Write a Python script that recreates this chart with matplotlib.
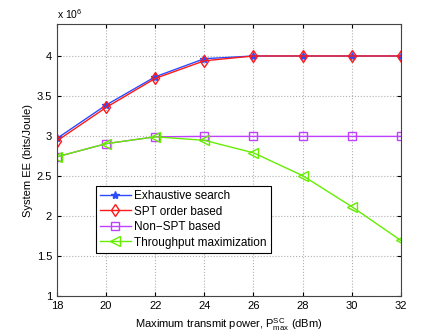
import matplotlib
matplotlib.use("Agg")
import matplotlib.pyplot as plt

plt.rcParams['font.family'] = ['Liberation Sans', 'DejaVu Sans']
plt.rcParams['mathtext.fontset'] = 'custom'
plt.rcParams['mathtext.rm'] = 'Liberation Sans'

# transmit power (dBm) and system EE (x 10^6 bits/Joule)
power = [18, 20, 22, 24, 26, 28, 30, 32]
exhaustive = [2.97, 3.387, 3.74, 3.966, 4.0, 4.0, 4.0, 4.0]
spt = [2.94, 3.357, 3.72, 3.94, 4.0, 4.0, 4.0, 4.0]
non_spt = [2.74, 2.904, 2.99, 2.995, 2.995, 2.995, 2.995, 2.995]
throughput = [2.74, 2.904, 2.99, 2.946, 2.79, 2.505, 2.118, 1.695]

fig = plt.figure(figsize=(4.43, 3.33), dpi=100)
ax = fig.add_axes([0.1287, 0.111, 0.776, 0.817])

ax.plot(power, exhaustive, color='#2b4bff', marker='*', markersize=6,
        linewidth=1, label='Exhaustive search')
ax.plot(power, spt, color='#ff1a1a', marker='d', markersize=6, mfc='none',
        linewidth=1, label='SPT order based')
ax.plot(power, non_spt, color='#c040ff', marker='s', markersize=5.5, mfc='none',
        linewidth=1, label='Non\u2212SPT based')
ax.plot(power, throughput, color='#66ee00', marker='<', markersize=6.5, mfc='none',
        linewidth=1, label='Throughput maximization')

ax.set_xlim(18, 32)
ax.set_ylim(1, 4.4)
ax.set_xticks(range(18, 33, 2))
ax.set_yticks([1, 1.5, 2, 2.5, 3, 3.5, 4])
ax.set_yticklabels(['1', '1.5', '2', '2.5', '3', '3.5', '4'])
ax.tick_params(direction='in', labelsize=8, length=3, top=True, right=True)
ax.grid(True, linestyle=':', color='#b0b0b0', linewidth=0.8)
for s in ax.spines.values():
    s.set_color('#444444')
    s.set_linewidth(0.8)

ax.set_xlabel(r'Maximum transmit power, P$_{\mathrm{max}}^{\mathrm{SC}}$ (dBm)', fontsize=8)
ax.set_ylabel('System EE (bits/Joule)', fontsize=8, labelpad=3)
ax.text(0.0, 1.02, r'x 10$^{6}$', transform=ax.transAxes, fontsize=7.5)

leg = ax.legend(loc='upper left', bbox_to_anchor=(0.113, 0.405), borderaxespad=0,
                fontsize=8.5, fancybox=False, edgecolor='black', framealpha=1,
                borderpad=0.35, labelspacing=0.3, handlelength=2.6, handletextpad=0.3)
leg.get_frame().set_linewidth(0.8)

fig.savefig('out.png', dpi=100)
